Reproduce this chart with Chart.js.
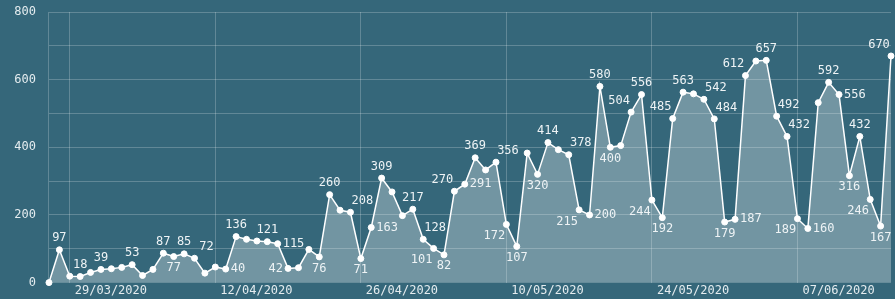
<!DOCTYPE html>
<html>
<head>
<meta charset="utf-8">
<script src="https://cdn.jsdelivr.net/npm/chart.js@4"></script>
<style>
    body { margin: 0; background: #35677a; }
    #wrap { width: 895px; height: 299px; position: relative; }
</style>
</head>
<body>
<div id="wrap"><canvas id="casesChart"></canvas></div>
<script>
// first day shown, one point per day after it
const startDay = new Date(2020, 2, 27);

const dailyCases = [
    0, 97, 19, 18, 30, 39, 41, 45, 53, 21,
    39, 87, 77, 85, 72, 28, 46, 40, 136, 128,
    123, 121, 115, 42, 44, 98, 76, 260, 214, 208,
    71, 163, 309, 268, 198, 217, 128, 101, 82, 270,
    291, 369, 333, 356, 172, 107, 383, 320, 414, 393,
    378, 215, 200, 580, 400, 405, 504, 556, 244, 192,
    485, 563, 558, 542, 484, 179, 187, 612, 655, 657,
    492, 432, 189, 160, 532, 592, 556, 316, 432, 246,
    167, 670
];

const tickDates = ['29/03/2020', '12/04/2020', '26/04/2020', '10/05/2020', '24/05/2020', '07/06/2020'];

// which points carry a value label, and on which side of the point
const labelSide = {
    1: 't', 3: 't', 5: 't', 8: 't', 11: 't', 12: 'b', 13: 't', 14: 'tr',
    17: 'r', 18: 't', 21: 't', 22: 'r', 23: 'l', 26: 'b', 27: 't', 29: 'tr',
    30: 'b', 31: 'r', 32: 't', 35: 't', 36: 'tr', 37: 'bl', 38: 'b', 39: 'tl',
    40: 'r', 41: 't', 43: 'tr', 44: 'bl', 45: 'b', 47: 'b', 48: 't', 50: 'tr',
    51: 'bl', 52: 'r', 53: 't', 54: 'b', 56: 'tl', 57: 't', 58: 'bl', 59: 'b',
    60: 'tl', 61: 't', 63: 'tr', 64: 'tr', 65: 'b', 66: 'r', 67: 'tl', 69: 't',
    70: 'tr', 71: 'tr', 72: 'bl', 73: 'r', 75: 't', 76: 'r', 77: 'b', 78: 't',
    79: 'bl', 80: 'b', 81: 'tl'
};

const dayLabels = [];
for (let i = 0; i < dailyCases.length; i++) {
    const d = new Date(startDay);
    d.setDate(d.getDate() + i);
    const dd = String(d.getDate()).padStart(2, '0');
    const mm = String(d.getMonth() + 1).padStart(2, '0');
    dayLabels.push(`${dd}/${mm}/${d.getFullYear()}`);
}

const monoFont = { family: "'DejaVu Sans Mono', monospace", size: 12 };
const gridColor = 'rgba(255, 255, 255, 0.22)';
const textColor = '#e4ecef';

const valueLabels = {
    id: 'valueLabels',
    afterDatasetsDraw(chart) {
        const ctx = chart.ctx;
        const points = chart.getDatasetMeta(0).data;
        ctx.save();
        ctx.font = `${monoFont.size}px ${monoFont.family}`;
        ctx.fillStyle = '#eef3f5';
        ctx.textBaseline = 'middle';
        Object.keys(labelSide).forEach(key => {
            const i = Number(key);
            const p = points[i];
            const side = labelSide[key];
            let x = p.x, y = p.y;
            ctx.textAlign = 'center';
            if (side === 't') y -= 11.5;
            else if (side === 'b') y += 11.5;
            else if (side === 'r') { ctx.textAlign = 'left'; x += 5; }
            else if (side === 'l') { ctx.textAlign = 'right'; x -= 5; }
            else if (side === 'tr') { x += 12; y -= 11.5; }
            else if (side === 'tl') { x -= 12; y -= 11.5; }
            else if (side === 'bl') { x -= 12; y += 11.5; }
            ctx.fillText(String(dailyCases[i]), x, y);
        });
        ctx.restore();
    }
};

const ctx = document.getElementById('casesChart').getContext('2d');
const casesChart = new Chart(ctx, {
    type: 'line',
    data: {
        labels: dayLabels,
        datasets: [{
            data: dailyCases,
            borderColor: '#ffffff',
            borderWidth: 1.5,
            backgroundColor: 'rgba(255, 255, 255, 0.3)',
            fill: 'origin',
            tension: 0,
            pointRadius: 3,
            pointBackgroundColor: '#ffffff',
            pointBorderColor: '#ffffff',
            pointBorderWidth: 1,
            clip: 6
        }]
    },
    options: {
        responsive: true,
        maintainAspectRatio: false,
        animation: false,
        layout: { autoPadding: false, padding: { top: 0, right: 4, left: 1.3, bottom: 0 } },
        plugins: {
            legend: { display: false },
            tooltip: { enabled: false }
        },
        scales: {
            x: {
                border: { display: false },
                grid: {
                    drawTicks: false,
                    color: c => tickDates.includes(dayLabels[c.index]) ? gridColor : 'rgba(0,0,0,0)'
                },
                ticks: {
                    autoSkip: false,
                    maxRotation: 0,
                    align: 'start',
                    labelOffset: 5,
                    padding: 1,
                    color: textColor,
                    font: monoFont,
                    callback: function (value, index) {
                        return tickDates.includes(dayLabels[index]) ? dayLabels[index] : '';
                    }
                },
                afterFit: scale => { scale.paddingLeft = 0; scale.paddingRight = 0; }
            },
            y: {
                min: 0,
                max: 800,
                border: { display: true, color: gridColor },
                grid: { drawTicks: false, color: gridColor },
                ticks: {
                    stepSize: 100,
                    padding: 13,
                    color: textColor,
                    font: monoFont,
                    callback: value => value % 200 === 0 ? value : ''
                },
                afterFit: scale => { scale.paddingTop = 12; scale.paddingBottom = 0; }
            }
        }
    },
    plugins: [valueLabels]
});
</script>
</body>
</html>
